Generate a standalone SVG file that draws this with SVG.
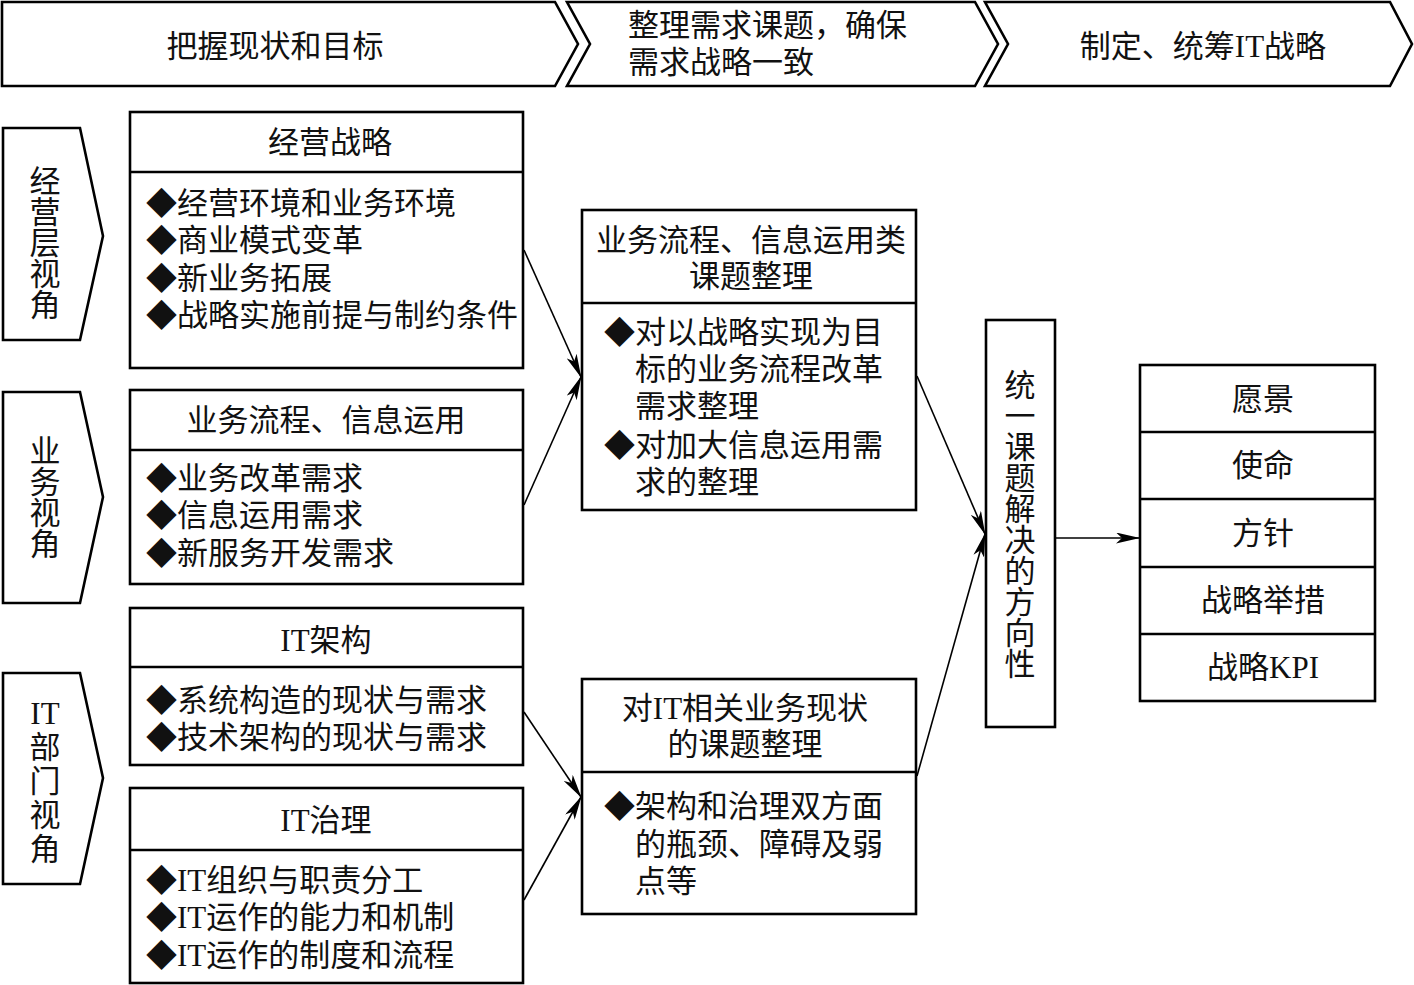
<svg xmlns="http://www.w3.org/2000/svg" width="1414" height="985" viewBox="0 0 1414 985">
<defs>
<style>
.box{fill:#fff;stroke:#000;stroke-width:2.6}
.ln{fill:none;stroke:#000;stroke-width:2.6}
.cn{fill:none;stroke:#000;stroke-width:1.6}
text{font-family:"Liberation Serif","Noto Sans CJK SC",serif;font-size:31px;fill:#111;dominant-baseline:central}
.c{text-anchor:middle}
.v{font-family:"Noto Sans CJK SC",sans-serif;writing-mode:vertical-rl;text-anchor:middle;dominant-baseline:auto}
</style>
<marker id="ah" viewBox="0 0 24 11" refX="23" refY="5.5" markerWidth="24" markerHeight="11" markerUnits="userSpaceOnUse" orient="auto">
<path d="M0,0 L24,5.5 L0,11 L6,5.5 z" fill="#000"/>
</marker>
</defs>
<rect width="1414" height="985" fill="#fff"/>

<g id="phase1">
<polygon class="box" points="2,2 555,2 578,44 555,86 2,86"/>
<text class="c" x="275" y="46">把握现状和目标</text>
</g>
<g id="phase2">
<polygon class="box" points="567,2 975,2 998,44 975,86 567,86 590,44"/>
<text x="628" y="25">整理需求课题，确保</text>
<text x="628" y="62">需求战略一致</text>
</g>
<g id="phase3">
<polygon class="box" points="985,2 1390,2 1412,44 1390,86 985,86 1008,44"/>
<text class="c" x="1203" y="46">制定、统筹IT战略</text>
</g>

<g id="view1">
<polygon class="box" points="3,128 80,128 103,236 80,340 3,340"/>
<text class="v" x="45" y="242">经营层视角</text>
</g>
<g id="view2">
<polygon class="box" points="3,392 80,392 103,497 80,603 3,603"/>
<text class="v" x="45" y="497">业务视角</text>
</g>
<g id="view3">
<polygon class="box" points="3,673 80,673 103,778 80,884 3,884"/>
<text class="c" x="45" y="713">IT</text>
<text class="v" x="45" y="799" letter-spacing="3">部门视角</text>
</g>

<g id="bizStrategy">
<rect class="box" x="130" y="112" width="393" height="256"/>
<line class="ln" x1="130" y1="172" x2="523" y2="172"/>
<text class="c" x="330" y="142">经营战略</text>
<text x="146" y="203">◆经营环境和业务环境</text>
<text x="146" y="240">◆商业模式变革</text>
<text x="146" y="278">◆新业务拓展</text>
<text x="146" y="315">◆战略实施前提与制约条件</text>
</g>
<g id="bizProcess">
<rect class="box" x="130" y="390" width="393" height="194"/>
<line class="ln" x1="130" y1="450" x2="523" y2="450"/>
<text class="c" x="326" y="420">业务流程、信息运用</text>
<text x="146" y="478">◆业务改革需求</text>
<text x="146" y="515">◆信息运用需求</text>
<text x="146" y="553">◆新服务开发需求</text>
</g>
<g id="itArch">
<rect class="box" x="130" y="608" width="393" height="157"/>
<line class="ln" x1="130" y1="667" x2="523" y2="667"/>
<text class="c" x="326" y="640">IT架构</text>
<text x="146" y="700">◆系统构造的现状与需求</text>
<text x="146" y="737">◆技术架构的现状与需求</text>
</g>
<g id="itGov">
<rect class="box" x="130" y="788" width="393" height="195"/>
<line class="ln" x1="130" y1="850" x2="523" y2="850"/>
<text class="c" x="326" y="820">IT治理</text>
<text x="146" y="880">◆IT组织与职责分工</text>
<text x="146" y="917">◆IT运作的能力和机制</text>
<text x="146" y="955">◆IT运作的制度和流程</text>
</g>

<g id="issueBiz">
<rect class="box" x="582" y="210" width="334" height="300"/>
<line class="ln" x1="582" y1="303" x2="916" y2="303"/>
<text class="c" x="751" y="240">业务流程、信息运用类</text>
<text class="c" x="751" y="276">课题整理</text>
<text x="604" y="332">◆对以战略实现为目</text>
<text x="635" y="369">标的业务流程改革</text>
<text x="635" y="406">需求整理</text>
<text x="604" y="445">◆对加大信息运用需</text>
<text x="635" y="482">求的整理</text>
</g>
<g id="issueIT">
<rect class="box" x="582" y="679" width="334" height="235"/>
<line class="ln" x1="582" y1="772" x2="916" y2="772"/>
<text class="c" x="745" y="708">对IT相关业务现状</text>
<text class="c" x="745" y="744">的课题整理</text>
<text x="604" y="806">◆架构和治理双方面</text>
<text x="635" y="844">的瓶颈、障碍及弱</text>
<text x="635" y="881">点等</text>
</g>

<g id="unify">
<rect class="box" x="986" y="320" width="69" height="407"/>
<text class="v" x="1020" y="524">统一课题解决的方向性</text>
</g>

<g id="itStrategy">
<rect class="box" x="1140" y="365" width="235" height="336"/>
<line class="ln" x1="1140" y1="432" x2="1375" y2="432"/>
<line class="ln" x1="1140" y1="499" x2="1375" y2="499"/>
<line class="ln" x1="1140" y1="567" x2="1375" y2="567"/>
<line class="ln" x1="1140" y1="634" x2="1375" y2="634"/>
<text class="c" x="1263" y="399">愿景</text>
<text class="c" x="1263" y="465">使命</text>
<text class="c" x="1263" y="533">方针</text>
<text class="c" x="1263" y="600">战略举措</text>
<text class="c" x="1263" y="667">战略KPI</text>
</g>

<g id="connectors">
<line class="cn" x1="524" y1="250" x2="581" y2="377" marker-end="url(#ah)"/>
<line class="cn" x1="524" y1="505" x2="581" y2="377" marker-end="url(#ah)"/>
<line class="cn" x1="524" y1="712" x2="581" y2="797" marker-end="url(#ah)"/>
<line class="cn" x1="524" y1="900" x2="581" y2="797" marker-end="url(#ah)"/>
<line class="cn" x1="917" y1="376" x2="985" y2="534" marker-end="url(#ah)"/>
<line class="cn" x1="917" y1="776" x2="985" y2="534" marker-end="url(#ah)"/>
<line class="cn" x1="1056" y1="538" x2="1139" y2="538" marker-end="url(#ah)"/>
</g>
</svg>
